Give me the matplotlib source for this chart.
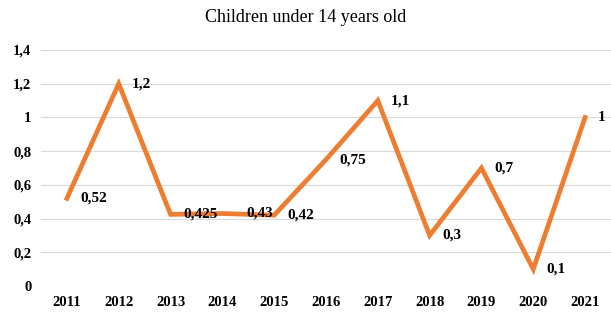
import matplotlib
matplotlib.use("Agg")
import matplotlib.pyplot as plt

years = ['2011', '2012', '2013', '2014', '2015', '2016', '2017', '2018', '2019', '2020', '2021']
values = [0.52, 1.2, 0.425, 0.43, 0.42, 0.75, 1.1, 0.3, 0.7, 0.1, 1.0]
labels = ['0,52', '1,2', '0,425', '0,43', '0,42', '0,75', '1,1', '0,3', '0,7', '0,1', '1']
yticks = [0, 0.2, 0.4, 0.6, 0.8, 1.0, 1.2, 1.4]
ytick_labels = ['0', '0,2', '0,4', '0,6', '0,8', '1', '1,2', '1,4']

serif = ['Liberation Serif', 'DejaVu Serif']

fig = plt.figure(figsize=(6.11, 3.2), dpi=100)
ax = fig.add_axes([41/611, 34/320, 570/611, 236/320])

x = list(range(len(years)))
ax.plot(x, values, color='#ED7D31', lw=3.4, solid_joinstyle='miter', zorder=3)

# data labels to the right of each point
for i, (v, lab) in enumerate(zip(values, labels)):
    dx = 24 if lab == '0,43' else 13
    ax.annotate(lab, (i, v), xytext=(dx * 0.72, 0), textcoords='offset points',
                ha='left', va='center', fontsize=11, fontweight='bold',
                family=serif, zorder=4)

ax.set_xlim(-0.5, len(years) - 0.5)
ax.set_ylim(0, 1.4)
ax.set_yticks(yticks)
ax.set_yticklabels(ytick_labels)
ax.set_xticks(x)
ax.set_xticklabels(years)
ax.grid(axis='y', color='#D9D9D9', lw=0.8, zorder=0)
ax.tick_params(length=0, labelsize=10.5, pad=7)
for t in ax.get_xticklabels() + ax.get_yticklabels():
    t.set_fontweight('bold')
    t.set_family(serif)
for s in ax.spines.values():
    s.set_visible(False)

fig.text(0.5, 1 - 18/320, 'Children under 14 years old', ha='center', va='center',
         fontsize=13, family=serif)

fig.savefig('out.png', dpi=100)
